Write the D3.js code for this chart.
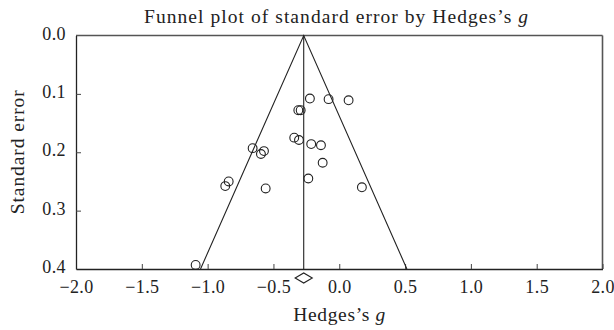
<!DOCTYPE html>
<html>
<head>
<meta charset="utf-8">
<script src="https://cdn.jsdelivr.net/npm/d3@7"></script>
<style>
  html, body { margin: 0; padding: 0; background: #fff; }
  svg { display: block; }
  text { font-family: "Liberation Serif", "DejaVu Serif", serif; fill: #222; }
</style>
</head>
<body>
<svg id="chart" width="614" height="330"></svg>
<script>
// Study effect sizes (Hedges's g) and their standard errors
const hedgesG = [-0.223, -0.081, 0.071, -0.311, -0.293, -0.342, -0.306, -0.213, -0.139,
                 -0.658, -0.572, -0.595, -0.126, -0.866, -0.840, -0.559, -0.235, 0.172, -1.091];
const standardError = [0.108, 0.109, 0.111, 0.128, 0.128, 0.175, 0.179, 0.186, 0.188,
                       0.193, 0.198, 0.203, 0.218, 0.258, 0.250, 0.262, 0.245, 0.260, 0.393];

// Pooled estimate and its confidence interval
const pooledEffect = [-0.27];
const pooledCI = [-0.335, -0.205];

const xTicks = [-2.0, -1.5, -1.0, -0.5, 0.0, 0.5, 1.0, 1.5, 2.0];
const yTicks = [0.0, 0.1, 0.2, 0.3, 0.4];

const svg = d3.select("#chart");
const margin = { left: 76, right: 11.5, top: 35.5, bottom: 61 };
const W = 614, H = 330;

const x = d3.scaleLinear().domain([-2, 2]).range([margin.left, W - margin.right]);
const y = d3.scaleLinear().domain([0, 0.4]).range([margin.top, H - margin.bottom]);

const fmt = v => d3.format(".1f")(v).replace("-", "\u2212");

// Frame: top and right borders
svg.append("line")
  .attr("x1", x(-2)).attr("x2", x(2)).attr("y1", y(0)).attr("y2", y(0))
  .attr("stroke", "#555").attr("stroke-width", 1.6);
svg.append("line")
  .attr("x1", x(2)).attr("x2", x(2)).attr("y1", y(0)).attr("y2", y(0.4))
  .attr("stroke", "#555").attr("stroke-width", 1.6);

// Bottom axis with inward ticks
const xAxis = svg.append("g")
  .attr("transform", `translate(0,${y(0.4)})`)
  .call(d3.axisBottom(x).tickValues(xTicks).tickSize(-5).tickSizeOuter(0).tickPadding(11).tickFormat(fmt));
xAxis.selectAll("text").attr("font-size", 18).attr("letter-spacing", 0.4)
  .attr("font-family", "Liberation Serif").attr("fill", "#222");
xAxis.select(".domain").attr("stroke", "#222").attr("stroke-width", 1.3);
xAxis.selectAll(".tick line").attr("stroke", "#444");

// Left axis with inward ticks
const yAxis = svg.append("g")
  .attr("transform", `translate(${x(-2)},0)`)
  .call(d3.axisLeft(y).tickValues(yTicks).tickSize(-5).tickSizeOuter(0).tickPadding(10).tickFormat(d3.format(".1f")));
yAxis.selectAll("text").attr("font-size", 18).attr("letter-spacing", 0.4)
  .attr("font-family", "Liberation Serif").attr("fill", "#222").attr("dy", "0.2em");
yAxis.select(".domain").attr("stroke", "#222").attr("stroke-width", 1.3);
yAxis.selectAll(".tick line").attr("stroke", "#444");
yAxis.selectAll(".tick").filter(d => d === 0 || d === 0.4).select("line").remove();

// Pseudo 95% confidence funnel around the pooled estimate
const seMax = 0.4;
const funnel = [
  [pooledEffect[0] - 1.96 * seMax, seMax],
  [pooledEffect[0], 0],
  [pooledEffect[0] + 1.96 * seMax, seMax]
];
svg.append("path")
  .attr("d", d3.line().x(d => x(d[0])).y(d => y(d[1]))(funnel))
  .attr("fill", "none").attr("stroke", "#222").attr("stroke-width", 1.1);

// Vertical line at the pooled estimate
svg.append("line")
  .attr("x1", x(pooledEffect[0])).attr("x2", x(pooledEffect[0]))
  .attr("y1", y(0)).attr("y2", y(0.4))
  .attr("stroke", "#222").attr("stroke-width", 1.1);

// Study points
svg.append("g").selectAll("circle")
  .data(hedgesG.map((g, i) => ({ g, se: standardError[i] })))
  .join("circle")
  .attr("cx", d => x(d.g)).attr("cy", d => y(d.se)).attr("r", 4.4)
  .attr("fill", "none").attr("stroke", "#222").attr("stroke-width", 1.1);

// Summary diamond below the axis
const dy = y(0.4) + 9;
svg.append("path")
  .attr("d", `M${x(pooledCI[0])},${dy} L${x(pooledEffect[0])},${dy - 5} L${x(pooledCI[1])},${dy} L${x(pooledEffect[0])},${dy + 5} Z`)
  .attr("fill", "#fff").attr("stroke", "#222").attr("stroke-width", 1.1);

// Title
const title = svg.append("text")
  .attr("x", 336).attr("y", 23).attr("text-anchor", "middle").attr("font-size", 19.5)
  .attr("textLength", 384).attr("lengthAdjust", "spacing");
title.append("tspan").text("Funnel plot of standard error by Hedges\u2019s ");
title.append("tspan").attr("font-style", "italic").text("g");

// Axis titles
const xt = svg.append("text")
  .attr("x", x(0)).attr("y", 321).attr("text-anchor", "middle").attr("font-size", 19.5)
  .attr("textLength", 92).attr("lengthAdjust", "spacing");
xt.append("tspan").text("Hedges\u2019s ");
xt.append("tspan").attr("font-style", "italic").text("g");

svg.append("text")
  .attr("transform", `translate(24,${(y(0) + y(0.4)) / 2}) rotate(-90)`)
  .attr("text-anchor", "middle").attr("font-size", 19.5)
  .attr("textLength", 124).attr("lengthAdjust", "spacing")
  .text("Standard error");
</script>
</body>
</html>
